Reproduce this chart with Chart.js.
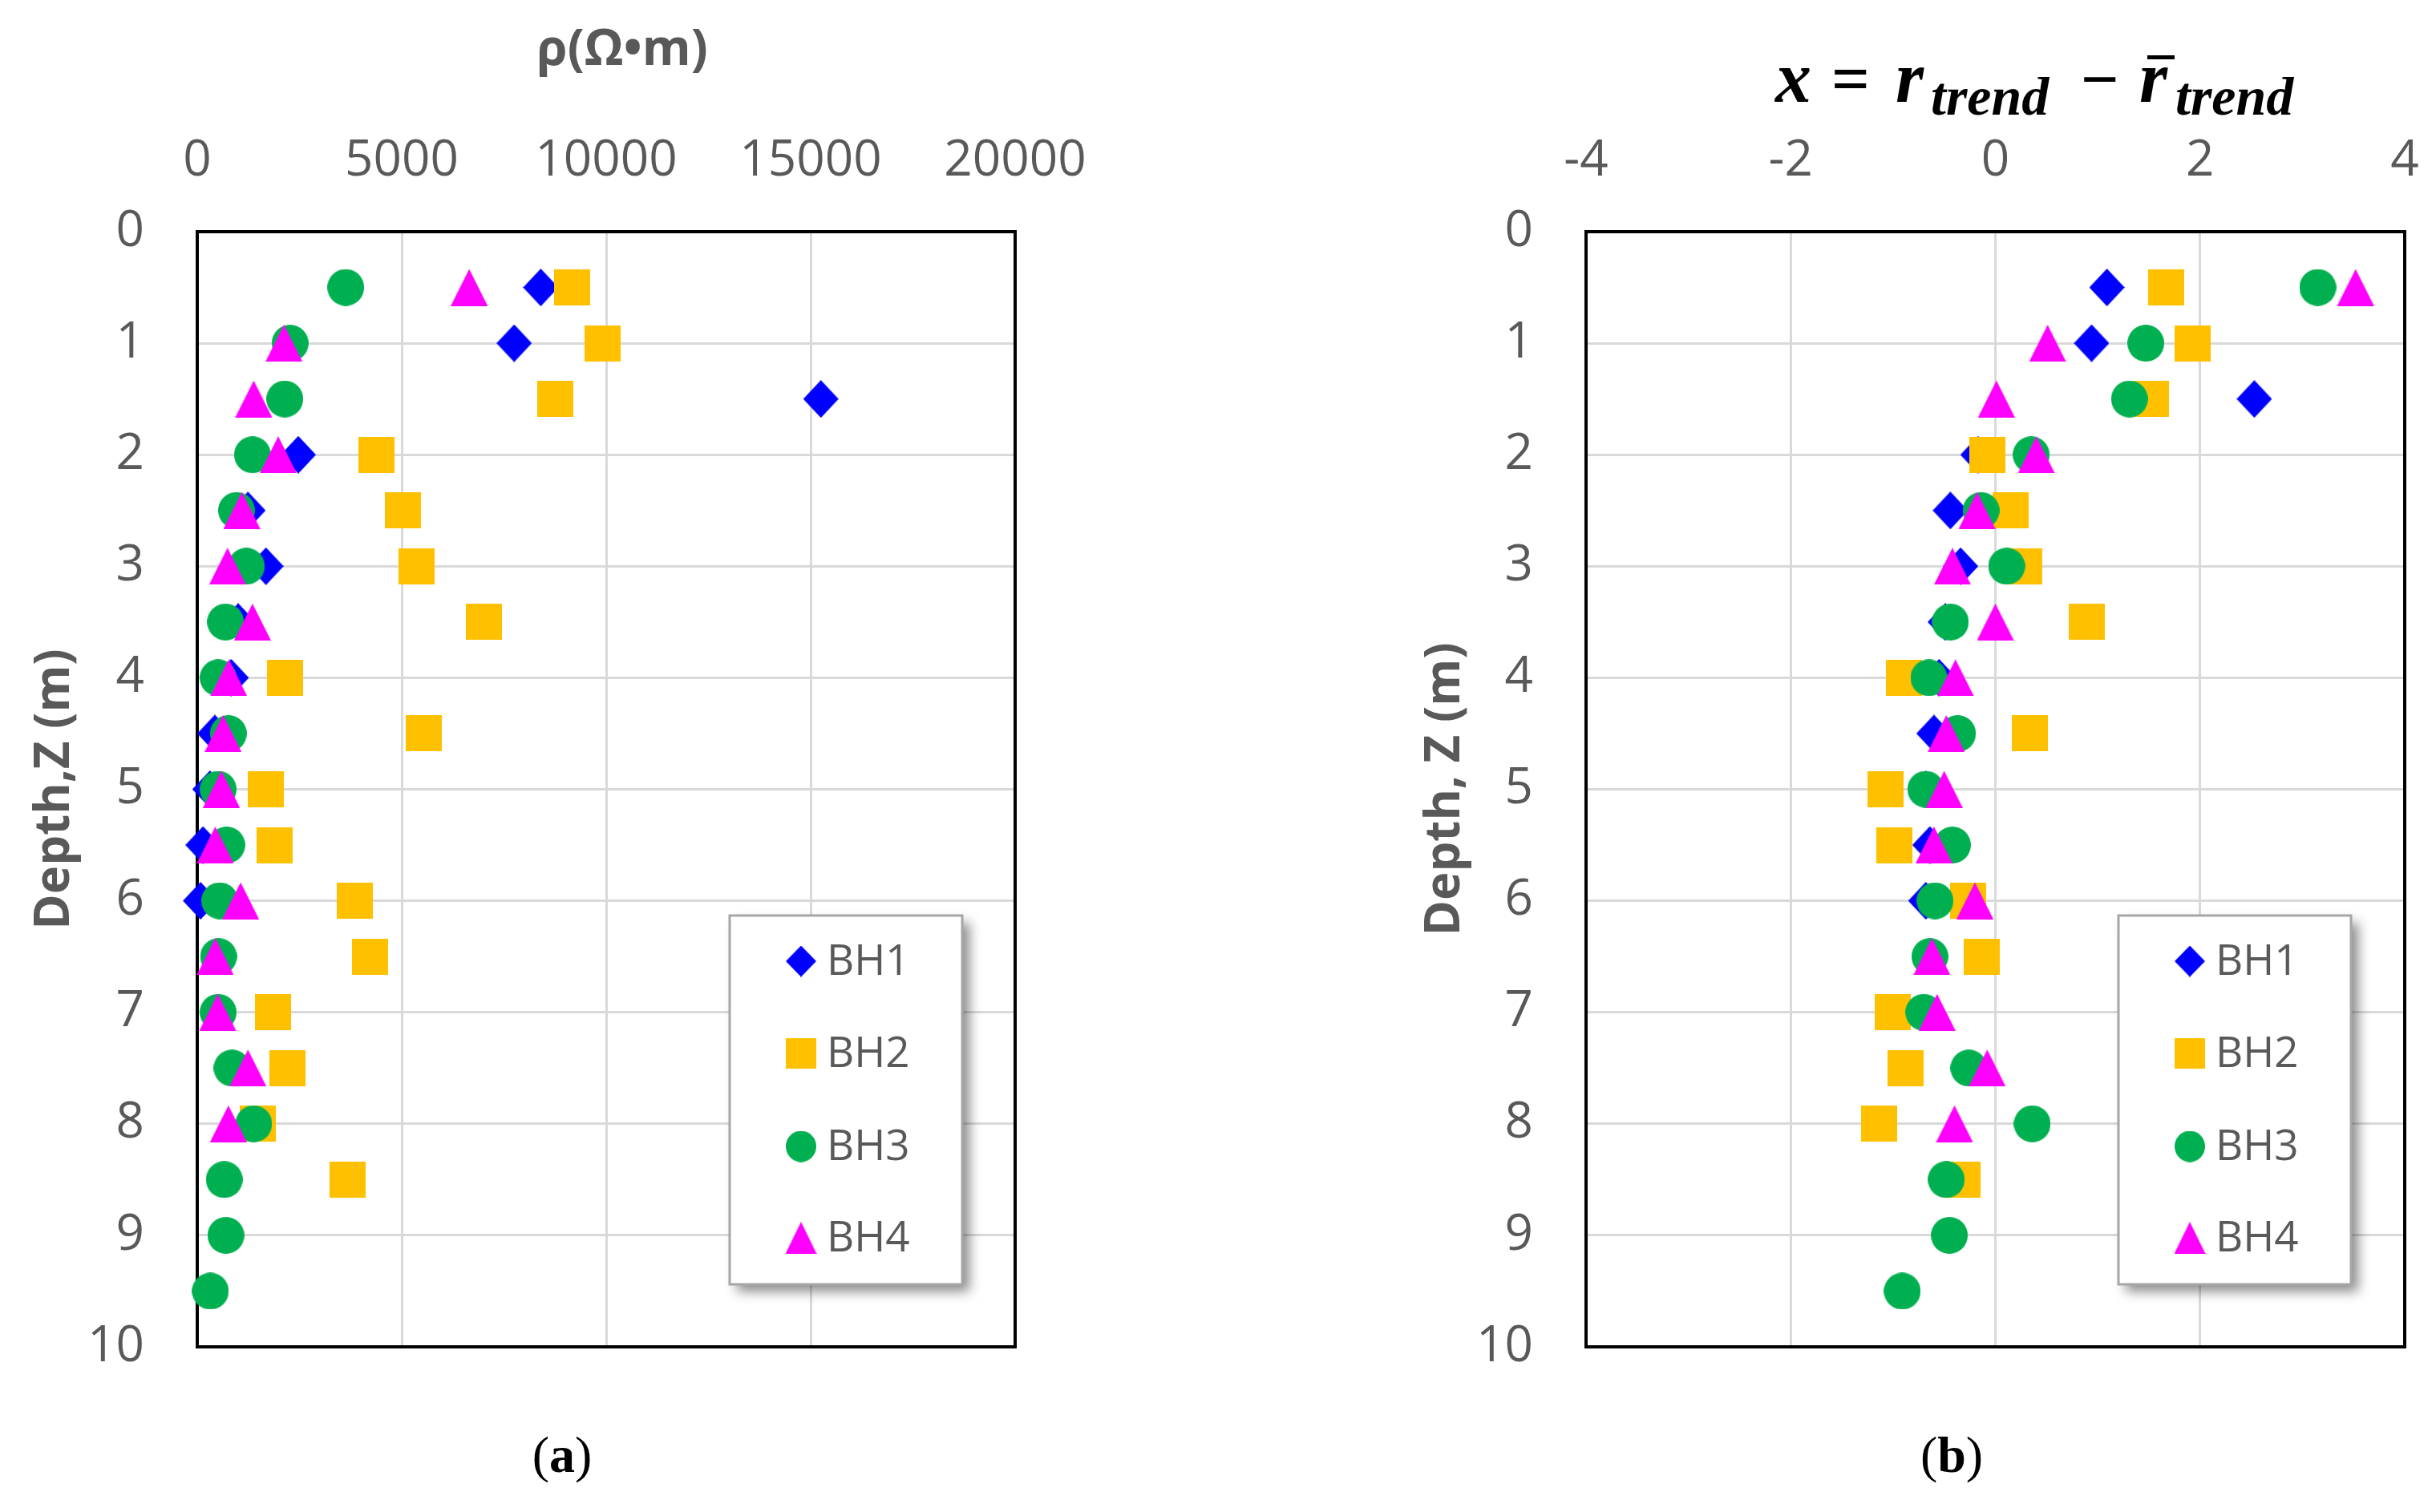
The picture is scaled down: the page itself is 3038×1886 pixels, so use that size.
<!DOCTYPE html>
<html>
<head>
<meta charset="utf-8">
<script src="https://cdn.jsdelivr.net/npm/chart.js@4/dist/chart.umd.min.js"></script>
<style>
  html, body { margin: 0; padding: 0; background: #fff; }
  #wrap { position: relative; width: 3038px; height: 1886px; }
  canvas { position: absolute; top: 0; }
</style>
</head>
<body>
<div id="wrap">
  <canvas id="chartA" width="1519" height="1886" style="left:0"></canvas>
  <canvas id="chartB" width="1519" height="1886" style="left:1519px"></canvas>
</div>
<script>
// depths (m) for each borehole
const depthBH1 = [0.5, 1, 1.5, 2, 2.5, 3, 3.5, 4, 4.5, 5, 5.5, 6];
const depthBH2 = [0.5, 1, 1.5, 2, 2.5, 3, 3.5, 4, 4.5, 5, 5.5, 6, 6.5, 7, 7.5, 8, 8.5];
const depthBH3 = [0.5, 1, 1.5, 2, 2.5, 3, 3.5, 4, 4.5, 5, 5.5, 6, 6.5, 7, 7.5, 8, 8.5, 9, 9.5];
const depthBH4 = [0.5, 1, 1.5, 2, 2.5, 3, 3.5, 4, 4.5, 5, 5.5, 6, 6.5, 7, 7.5, 8];

// (a) resistivity rho (Ohm.m)
const rhoBH1 = [8400, 7750, 15250, 2470, 1240, 1680, 1000, 830, 430, 310, 140, 80];
const rhoBH2 = [9170, 9910, 8760, 4390, 5020, 5360, 7010, 2140, 5530, 1680, 1900, 3850, 4230, 1860, 2200, 1490, 3680];
const rhoBH3 = [3630, 2270, 2140, 1350, 960, 1200, 690, 510, 760, 510, 720, 550, 520, 510, 850, 1380, 660, 700, 320];
const rhoBH4 = [6650, 2120, 1380, 1980, 1090, 740, 1350, 770, 630, 590, 440, 1060, 440, 500, 1240, 760];

// (b) x = r_trend - mean(r_trend)
const xBH1 = [1.09, 0.94, 2.53, -0.17, -0.44, -0.34, -0.49, -0.55, -0.6, -0.68, -0.64, -0.68];
const xBH2 = [1.67, 1.93, 1.52, -0.08, 0.15, 0.28, 0.89, -0.89, 0.34, -1.07, -0.99, -0.27, -0.13, -1.0, -0.88, -1.14, -0.32];
const xBH3 = [3.15, 1.47, 1.31, 0.35, -0.14, 0.11, -0.44, -0.65, -0.37, -0.68, -0.42, -0.59, -0.64, -0.7, -0.26, 0.36, -0.48, -0.45, -0.91];
const xBH4 = [3.52, 0.51, 0.01, 0.4, -0.18, -0.42, 0.0, -0.39, -0.48, -0.5, -0.6, -0.2, -0.62, -0.57, -0.08, -0.4];

const seriesNames = ['BH1', 'BH2', 'BH3', 'BH4'];
const depthTicks = [0, 1, 2, 3, 4, 5, 6, 7, 8, 9, 10];
const rhoTicks = [0, 5000, 10000, 15000, 20000];
const xTicks = [-4, -2, 0, 2, 4];

const colors = ['#0000FF', '#FFC000', '#00B050', '#FF00FF'];
const shapes = ['diamond', 'square', 'circle', 'triangle'];
const GRAY = '#595959';
const FONT = '"Open Sans", "Liberation Sans", sans-serif';

Chart.defaults.font.family = FONT;
Chart.defaults.color = GRAY;

// marker images (Excel-like shapes)
function marker(shape, color, w, h) {
  const c = document.createElement('canvas');
  c.width = w; c.height = h;
  const g = c.getContext('2d');
  g.fillStyle = color;
  g.beginPath();
  if (shape === 'diamond') {
    g.moveTo(w / 2, 0); g.lineTo(w, h / 2); g.lineTo(w / 2, h); g.lineTo(0, h / 2);
  } else if (shape === 'square') {
    g.rect(0, 0, w, h);
  } else if (shape === 'circle') {
    g.ellipse(w / 2, h / 2, w / 2, h / 2, 0, 0, Math.PI * 2);
  } else {
    g.moveTo(w / 2, 0); g.lineTo(w, h); g.lineTo(0, h);
  }
  g.closePath();
  g.fill();
  return c;
}
const plotSize = { diamond: [44, 47], square: [45, 45], circle: [46, 46], triangle: [46, 46] };
const legSize = { diamond: [38, 39], square: [38, 38], circle: [38, 39], triangle: [39, 40] };
const plotMarkers = shapes.map((s, i) => marker(s, colors[i], plotSize[s][0], plotSize[s][1]));
const legMarkers = shapes.map((s, i) => marker(s, colors[i], legSize[s][0], legSize[s][1]));

const extras = {
  id: 'extras',
  beforeDatasetsDraw(chart) {
    const { ctx, chartArea: a } = chart;
    ctx.save();
    ctx.strokeStyle = '#000';
    ctx.lineWidth = 4;
    ctx.strokeRect(a.left, a.top, a.right - a.left, a.bottom - a.top);
    ctx.restore();
  },
  afterDatasetsDraw(chart) {
    // legend box inside plot
    const { ctx, chartArea: a } = chart;
    const bx = a.left + 664, by = a.top + 853, bw = 290, bh = 460;
    ctx.save();
    ctx.shadowColor = 'rgba(0,0,0,0.45)';
    ctx.shadowBlur = 14;
    ctx.shadowOffsetX = 9;
    ctx.shadowOffsetY = 9;
    ctx.fillStyle = '#fff';
    ctx.fillRect(bx, by, bw, bh);
    ctx.shadowColor = 'transparent';
    ctx.strokeStyle = '#a6a6a6';
    ctx.lineWidth = 3;
    ctx.strokeRect(bx, by, bw, bh);
    ctx.font = '53px ' + FONT;
    ctx.fillStyle = GRAY;
    ctx.textBaseline = 'middle';
    const rows = [57, 172, 288, 402];
    seriesNames.forEach((n, i) => {
      const m = legMarkers[i];
      ctx.drawImage(m, bx + 89 - m.width / 2, by + rows[i] - m.height / 2);
      ctx.fillText(n, bx + 121, by + rows[i] + 2);
    });
    ctx.restore();
  },
  afterDraw(chart, args, opts) {
    const { ctx } = chart;
    ctx.save();
    // caption (a)/(b)
    ctx.fillStyle = '#000';
    ctx.textBaseline = 'middle';
    const pr = '64px "Liberation Serif", serif';
    const lb = 'bold 64px "Liberation Serif", serif';
    ctx.font = pr; const w1 = ctx.measureText('(').width;
    ctx.font = lb; const w2 = ctx.measureText(opts.caption).width;
    let x = opts.capX - (2 * w1 + w2) / 2;
    const y = 1819;
    ctx.font = pr; ctx.fillText('(', x, y); x += w1;
    ctx.font = lb; ctx.fillText(opts.caption, x, y); x += w2;
    ctx.font = pr; ctx.fillText(')', x, y);

    if (opts.xTitle) {
      ctx.fillStyle = GRAY;
      ctx.textAlign = 'center';
      ctx.font = 'bold 62px ' + FONT;
      ctx.fillText(opts.xTitle, 776, 63);
      ctx.textAlign = 'left';
    }

    if (opts.math) {
      ctx.fillStyle = '#000';
      const main = 'italic bold 90px "Liberation Serif", serif';
      const up = 'bold 84px "Liberation Serif", serif';
      const sub = 'italic bold 68px "Liberation Serif", serif';
      const o = 1519;
      const base = 127, subBase = 143;
      ctx.textBaseline = 'alphabetic';
      ctx.font = main; ctx.fillText('x', 2214 - o, base);
      ctx.font = up; ctx.fillText('=', 2284 - o, base);
      ctx.font = main; ctx.fillText('r', 2364 - o, base);
      ctx.font = sub; ctx.fillText('trend', 2408 - o, subBase);
      ctx.font = up; ctx.fillText('\u2212', 2595 - o, base);
      ctx.font = main; ctx.fillText('r', 2668 - o, base);
      ctx.fillRect(2678 - o, 69, 34, 5);
      ctx.font = sub; ctx.fillText('trend', 2713 - o, subBase);
    }
    ctx.restore();
  }
};

function pts(xs, ys) {
  return ys.map((d, i) => ({ x: xs[i], y: d }));
}

function makeChart(id, vals, xMin, xMax, xStep, xTickVals, cfg) {
  const depths = [depthBH1, depthBH2, depthBH3, depthBH4];
  new Chart(document.getElementById(id), {
    type: 'scatter',
    data: {
      datasets: seriesNames.map((n, i) => ({
        label: n,
        data: pts(vals[i], depths[i]),
        pointStyle: plotMarkers[i],
        pointRadius: 23,
        backgroundColor: colors[i],
        borderWidth: 0,
        clip: false,
        order: 4 - i
      }))
    },
    plugins: [extras],
    options: {
      responsive: false,
      animation: false,
      devicePixelRatio: 1,
      layout: { padding: { left: 0, top: 0, right: cfg.padRight, bottom: 206 } },
      plugins: {
        legend: { display: false },
        tooltip: { enabled: false },
        extras: { caption: cfg.caption, capX: cfg.capX, math: cfg.math, xTitle: cfg.xTitle }
      },
      scales: {
        x: {
          type: 'linear',
          position: 'top',
          min: xMin,
          max: xMax,
          afterBuildTicks: s => { s.ticks = xTickVals.map(v => ({ value: v })); },
          ticks: {
            stepSize: xStep, autoSkip: false, maxRotation: 0, padding: 50,
            font: { size: 62 }, color: GRAY,
            callback: v => String(v)
          },
          grid: { color: '#d9d9d9', lineWidth: 3, drawTicks: false },
          border: { display: false },
          afterFit: s => { s.height = 289; s.paddingLeft = 0; s.paddingRight = 0; }
        },
        y: {
          type: 'linear',
          reverse: true,
          min: 0,
          max: 10,
          afterBuildTicks: s => { s.ticks = depthTicks.map(v => ({ value: v })); },
          ticks: {
            stepSize: 1, autoSkip: false, padding: 66,
            font: { size: 62 }, color: GRAY,
            callback: v => String(v)
          },
          grid: { color: '#d9d9d9', lineWidth: 3, drawTicks: false },
          border: { display: false },
          title: {
            display: true,
            text: cfg.yTitle,
            font: { size: 60, weight: 'bold' },
            color: GRAY,
            padding: { top: cfg.yTitlePad, bottom: 0 }
          },
          afterFit: s => { s.width = cfg.yWidth; s.paddingTop = 0; s.paddingBottom = 0; }
        }
      }
    }
  });
}

makeChart('chartA', [rhoBH1, rhoBH2, rhoBH3, rhoBH4], 0, 20000, 5000, rhoTicks, {
  padRight: 253, yWidth: 246, yTitlePad: 33, yTitle: 'Depth,Z (m)',
  xTitle: '\u03C1(\u03A9\u2022m)', caption: 'a', capX: 701, math: false
});
makeChart('chartB', [xBH1, xBH2, xBH3, xBH4], -4, 4, 2, xTicks, {
  padRight: 39, yWidth: 459, yTitlePad: 248, yTitle: 'Depth, Z (m)',
  xTitle: '', caption: 'b', capX: 915, math: true
});
</script>
</body>
</html>
